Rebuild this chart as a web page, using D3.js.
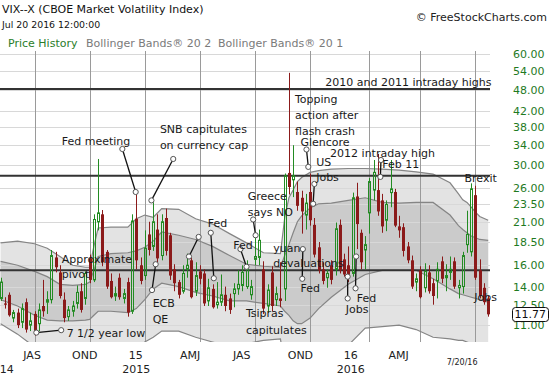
<!DOCTYPE html>
<html>
<head>
<meta charset="utf-8">
<script src="https://cdn.jsdelivr.net/npm/d3@7"></script>
<style>
  html, body { margin: 0; padding: 0; background: #fff; }
  svg { display: block; font-family: "DejaVu Sans", Verdana, sans-serif; }
</style>
</head>
<body>
<div id="chart"></div>
<script>
// ── Weekly candles (week starting Monday) ─────────────────────
const weeks = [
  "2014-05-05","2014-05-12","2014-05-19","2014-05-26","2014-06-02","2014-06-09","2014-06-16","2014-06-23",
  "2014-06-30","2014-07-07","2014-07-14","2014-07-21","2014-07-28","2014-08-04","2014-08-11","2014-08-18",
  "2014-08-25","2014-09-01","2014-09-08","2014-09-15","2014-09-22","2014-09-29","2014-10-06","2014-10-13",
  "2014-10-20","2014-10-27","2014-11-03","2014-11-10","2014-11-17","2014-11-24","2014-12-01","2014-12-08",
  "2014-12-15","2014-12-22","2014-12-29","2015-01-05","2015-01-12","2015-01-19","2015-01-26","2015-02-02",
  "2015-02-09","2015-02-16","2015-02-23","2015-03-02","2015-03-09","2015-03-16","2015-03-23","2015-03-30",
  "2015-04-06","2015-04-13","2015-04-20","2015-04-27","2015-05-04","2015-05-11","2015-05-18","2015-05-25",
  "2015-06-01","2015-06-08","2015-06-15","2015-06-22","2015-06-29","2015-07-06","2015-07-13","2015-07-20",
  "2015-07-27","2015-08-03","2015-08-10","2015-08-17","2015-08-24","2015-08-31","2015-09-07","2015-09-14",
  "2015-09-21","2015-09-28","2015-10-05","2015-10-12","2015-10-19","2015-10-26","2015-11-02","2015-11-09",
  "2015-11-16","2015-11-23","2015-11-30","2015-12-07","2015-12-14","2015-12-21","2015-12-28","2016-01-04",
  "2016-01-11","2016-01-18","2016-01-25","2016-02-01","2016-02-08","2016-02-15","2016-02-22","2016-02-29",
  "2016-03-07","2016-03-14","2016-03-21","2016-03-28","2016-04-04","2016-04-11","2016-04-18","2016-04-25",
  "2016-05-02","2016-05-09","2016-05-16","2016-05-23","2016-05-30","2016-06-06","2016-06-13","2016-06-20",
  "2016-06-27","2016-07-04","2016-07-11","2016-07-18"
];
const opens = [
  13.0,12.6,13.3,11.5,11.9,11.2,12.7,11.0, 11.8,11.1,12.4,12.7,12.9,16.8,15.3,12.9,
  11.6,12.0,12.6,13.6,13.0,16.7,14.6,21.0, 22.0,17.4,14.5,13.2,14.8,13.0,14.4,12.0,
  21.4,16.0,15.0,19.4,18.0,20.0,17.0,21.5, 19.3,15.6,14.4,13.6,15.6,16.5,13.6,15.4,
  15.2,12.8,13.8,12.5,12.7,13.3,13.0,13.4, 13.8,14.1,14.0,13.3,16.6,16.8,15.6,12.4,
  15.3,12.9,13.0,13.8,28.5,27.3,25.3,24.4, 21.9,25.3,20.6,17.9,15.6,14.8,16.0,15.6,
  20.6,16.6,16.0,15.2,24.6,19.6,17.6,22.2, 25.6,25.6,24.0,21.2,25.2,25.3,20.4,20.3,
  18.0,16.5,14.4,15.5,13.9,15.3,14.3,14.5, 16.4,14.8,15.3,16.4,13.9,14.0,18.2,17.4,
  24.8,15.5,13.9,13.0
];
const highs = [
  14.8,13.1,13.5,12.1,12.2,12.6,13.0,11.9, 12.0,12.6,14.6,13.6,17.6,17.4,16.0,13.5,
  12.4,12.8,14.1,14.3,15.4,17.1,22.0,31.1, 22.6,17.6,15.2,14.0,15.2,13.8,14.8,22.0,
  25.2,16.8,19.9,21.0,23.9,22.0,22.0,22.8, 19.6,16.1,14.6,16.0,17.2,16.8,16.3,16.0,
  15.6,14.7,14.2,14.4,15.1,14.0,13.4,14.3, 15.5,16.0,16.5,14.6,19.3,20.0,16.4,14.2,
  15.9,14.0,16.3,28.4,53.3,33.9,27.0,25.5, 25.0,28.4,21.5,18.5,16.3,15.6,16.5,20.9,
  21.3,17.2,18.0,25.2,26.8,20.0,19.2,27.6, 30.9,32.1,25.0,24.0,30.9,25.8,21.8,20.8,
  18.5,17.0,15.2,15.9,16.2,16.0,14.7,16.3, 16.9,16.1,16.9,16.8,14.6,17.4,22.5,26.7,
  26.3,16.6,14.3,13.2
];
const lows = [
  12.8,12.2,11.6,11.2,10.8,10.8,10.5,10.6, 10.3,10.6,11.6,11.8,12.6,15.3,13.0,11.2,
  11.3,11.6,12.2,11.9,12.5,14.3,14.4,19.9, 15.9,13.8,13.0,12.8,12.9,12.6,11.6,11.8,
  15.6,14.2,14.6,17.0,17.5,16.3,16.5,17.0, 14.6,13.6,13.0,13.4,14.8,13.0,13.2,14.2,
  12.4,12.4,12.2,12.2,12.4,12.0,11.8,12.3, 13.3,13.6,13.8,12.9,16.0,16.0,11.8,11.9,
  12.0,12.4,12.3,12.8,24.9,24.5,22.5,19.5, 20.0,20.5,16.8,15.2,14.2,13.9,14.2,15.0,
  15.2,14.9,14.4,14.9,17.7,15.6,15.6,19.5, 24.0,21.8,19.6,19.8,23.0,20.3,19.0,16.9,
  16.2,13.8,13.6,13.0,13.5,13.4,12.5,13.0, 14.3,13.6,14.6,13.8,13.0,13.4,17.3,16.9,
  14.6,13.0,12.5,11.6
];
const closes = [
  14.4,12.5,11.7,11.9,11.0,12.2,10.7,11.3, 10.4,12.1,12.0,12.9,17.0,15.8,13.2,11.5,
  12.1,12.4,13.5,12.1,15.2,14.6,21.3,22.2, 16.3,14.0,13.1,13.4,13.1,13.4,11.9,21.1,
  16.5,14.5,17.8,17.6,21.0,16.7,21.0,17.5, 15.0,14.3,13.3,15.2,16.0,13.1,15.0,14.7,
  12.6,13.9,12.3,12.7,13.3,12.4,12.1,13.8, 14.2,15.3,15.6,14.0,16.9,18.7,12.2,13.7,
  12.4,13.4,12.8,28.0,26.1,28.0,23.2,22.4, 23.6,21.2,17.1,15.5,14.5,15.2,14.6,20.1,
  15.5,15.1,14.8,24.4,20.7,16.3,18.2,27.0, 28.6,22.4,20.4,23.4,25.8,20.5,19.9,17.5,
  16.5,14.0,14.7,13.1,15.4,13.6,13.2,15.6, 14.7,15.0,15.6,14.0,14.1,17.0,19.4,25.8,
  14.8,13.2,12.7,11.77
];

// ── Bollinger bands ───────────────────────────────────────────
const bandWeeks = [
  "2014-05-05","2014-06-02","2014-06-30","2014-07-21","2014-08-11","2014-09-01","2014-09-22","2014-09-29",
  "2014-10-06","2014-10-13","2014-11-03","2014-12-01","2014-12-15","2014-12-29","2015-01-12","2015-01-26",
  "2015-02-23","2015-03-23","2015-04-20","2015-05-18","2015-06-15","2015-07-13","2015-08-10","2015-08-17",
  "2015-08-24","2015-08-31","2015-09-07","2015-09-14","2015-09-28","2015-10-12","2015-11-02","2015-11-30",
  "2015-12-28","2016-01-25","2016-02-22","2016-03-21","2016-04-18","2016-05-16","2016-05-30","2016-06-06",
  "2016-06-13","2016-06-20","2016-06-27","2016-07-04","2016-07-18"
];
const upper2 = [18.4,18.6,18.3,17.8,16.9,16.0,15.8,15.8, 18.0,20.2,20.3,20.3,21.4,21.9,21.6,22.8,
  22.7,21.4,20.7,19.5,18.4,17.3,17.2,21.5, 24.4,25.6,27.0,27.7,28.6,28.9,29.2,29.3,
  29.3,29.2,29.0,28.7,28.3,26.8,25.0,24.1, 23.7,23.0,22.3,21.7,21.2];
const upper1 = [16.4,16.0,15.4,14.9,14.2,14.1,14.2,14.4, 15.5,16.9,17.2,17.3,17.5,17.9,18.6,19.7,
  19.3,18.8,18.0,17.0,16.1,15.9,15.8,17.0, 18.2,19.6,21.0,21.8,22.9,23.5,23.6,24.0,
  24.4,23.7,23.6,23.7,23.7,21.9,20.5,20.0, 19.6,19.2,19.0,18.8,18.7];
const lower1 = [12.9,12.4,11.7,11.35,11.3,11.3,11.35,11.4, 11.7,12.0,12.0,11.9,12.2,12.9,13.8,14.3,
  14.0,13.5,13.2,12.8,12.8,12.6,12.4,12.0, 11.7,11.3,11.1,11.1,11.5,12.2,13.1,14.2,
  15.1,15.5,15.5,15.5,14.7,13.8,13.4,13.3, 13.2,13.1,13.0,12.9,12.7];
const lower2 = [11.1,10.4,9.6,9.2,9.0,9.0,9.2,9.3, 8.8,8.3,8.2,8.5,9.5,9.9,10.2,10.6,
  10.6,10.2,9.9,9.6,9.8,10.0,10.1,8.5, 7.0,6.5,6.2,6.0,6.0,6.5,7.8,9.7,
  10.8,10.9,11.0,10.7,10.2,10.1,10.0,10.0, 9.9,9.8,9.7,9.6,9.5];

// ── Axes ──────────────────────────────────────────────────────
const yTicks = [60, 54, 48, 42, 38, 34, 30, 26, 23.5, 21, 18.5, 16, 14, 12.5, 11];
const quarterWeeks = ["2014-06-30","2014-09-29","2014-12-29","2015-03-30","2015-06-29",
                      "2015-09-28","2016-01-04","2016-03-28","2016-06-27"];
const xLabels1 = [["JAS","2014-06-26"],["OND","2014-09-21"],["15","2014-12-14"],["AMJ","2015-03-14"],
                  ["JAS","2015-06-07"],["OND","2015-09-12"],["16","2015-12-04"],["AMJ","2016-02-21"]];
const xLabels2 = [["14","2014-05-15"],["2015","2014-12-15"],["2016","2015-12-04"]];
const lastLabel = ["7/20/16","2016-06-05"];
const refLines = [48.2, 28.0, 15.5];

// ── Annotations (anchor date, value) ──────────────────────────
const noteTexts = [
  ["Fed meeting","2014-08-14",34.8], ["SNB capitulates","2015-01-23",37.5], ["on currency cap","2015-01-23",33.9],
  ["Approximate","2014-08-14",16.6], ["pivot","2014-08-14",15.1], ["7 1/2 year low","2014-08-22",10.47],
  ["ECB","2015-01-11",12.6], ["QE","2015-01-11",11.4], ["Fed","2015-04-12",20.8], ["Fed","2015-05-24",18.2],
  ["Greece","2015-06-17",24.7], ["says NO","2015-06-17",22.3], ["Tsipras","2015-06-14",11.9],
  ["capitulates","2015-06-14",10.66], ["yuan","2015-07-29",17.8], ["devaluations","2015-07-29",16.2],
  ["Fed","2015-09-12",13.9], ["Topping","2015-09-03",45.3], ["action after","2015-09-03",41.0],
  ["flash crash","2015-09-03",37.1], ["Glencore","2015-09-12",34.5], ["US","2015-10-08",30.5],
  ["Jobs","2015-10-08",27.8], ["2010 and 2011 intraday highs","2015-10-23",50.4],
  ["2012 intraday high","2015-10-31",32.3], ["Feb 11","2016-01-25",30.1], ["Brexit","2016-06-09",27.6],
  ["Jobs","2016-06-25",13.1], ["Fed","2015-12-14",13.05], ["Jobs","2015-11-26",12.2]
];
const noteLinks = [
  ["2014-11-22",33.1,"2014-12-14",25.3], ["2015-02-14",31.1,"2015-01-09",24.0],
  ["2014-08-13",10.66,"2014-07-03",10.5], ["2015-01-10",13.7,"2015-01-16",16.1],
  ["2015-03-12",16.9,"2015-03-28",19.1], ["2015-04-17",19.6,"2015-04-22",14.75],
  ["2015-06-05",17.7,"2015-06-15",15.85], ["2015-06-26",21.3,"2015-06-30",19.3],
  ["2015-09-16",17.7,"2015-09-15",14.7], ["2015-09-22",33.0,"2015-09-25",29.6],
  ["2015-10-05",26.6,"2015-10-03",23.5], ["2016-01-23",30.9,"2016-01-22",27.8],
  ["2015-11-29",13.0,"2015-11-29",14.9], ["2015-12-12",13.85,"2015-12-13",16.9]
];

// ── Build ─────────────────────────────────────────────────────
const W = 550, H = 375;
const P = { left: 0, right: 490, top: 51, bottom: 342 };
const parse = d3.timeParse("%Y-%m-%d");
const GREEN = "#228b22", RED = "#8b1a1a";

const x = d3.scaleTime()
  .domain([parse("2014-05-04"), parse("2016-07-21")])
  .range([P.left, P.right]);
const y = d3.scaleLog()
  .domain([9.9, 61.1])
  .range([P.bottom, P.top]);

const svg = d3.select("#chart").append("svg")
  .attr("width", W).attr("height", H);

svg.append("rect").attr("width", W).attr("height", H).attr("fill", "#fff");

svg.append("defs").append("clipPath").attr("id", "plotClip")
  .append("rect")
    .attr("x", P.left).attr("y", P.top)
    .attr("width", P.right - P.left).attr("height", P.bottom - P.top);

const plot = svg.append("g").attr("clip-path", "url(#plotClip)");

// bands
const bands = bandWeeks.map((w, i) => ({
  date: parse(w), u2: upper2[i], u1: upper1[i], l1: lower1[i], l2: lower2[i]
}));
const areaOuter = d3.area().x(d => x(d.date)).y0(d => y(d.l2)).y1(d => y(d.u2));
const areaInner = d3.area().x(d => x(d.date)).y0(d => y(d.l1)).y1(d => y(d.u1));
plot.append("path").datum(bands).attr("d", areaOuter).attr("fill", "#e3e3e3");
plot.append("path").datum(bands).attr("d", areaInner).attr("fill", "#cbcbcb");

// horizontal grid
plot.selectAll(".hgrid").data(yTicks).join("line")
  .attr("x1", P.left).attr("x2", P.right)
  .attr("y1", d => Math.round(y(d)) + 0.5).attr("y2", d => Math.round(y(d)) + 0.5)
  .attr("stroke", "#d8d8d8").attr("stroke-width", 1);

// vertical grid
plot.selectAll(".vgrid").data(quarterWeeks).join("line")
  .attr("x1", d => Math.round(x(parse(d))) + 0.5).attr("x2", d => Math.round(x(parse(d))) + 0.5)
  .attr("y1", P.top).attr("y2", P.bottom)
  .attr("stroke", "#9a9a9a").attr("stroke-width", 1);

// band lines
["u2", "u1", "l1", "l2"].forEach(k => {
  plot.append("path").datum(bands)
    .attr("d", d3.line().x(d => x(d.date)).y(d => y(d[k])))
    .attr("fill", "none").attr("stroke", "#858585").attr("stroke-width", 1.2);
});

// reference lines
plot.selectAll(".ref").data(refLines).join("line")
  .attr("x1", P.left).attr("x2", P.right)
  .attr("y1", d => y(d)).attr("y2", d => y(d))
  .attr("stroke", "#333").attr("stroke-width", 2);

// candles
const candles = weeks.map((w, i) => ({
  date: parse(w), o: opens[i], h: highs[i], l: lows[i], c: closes[i]
}));
const cg = plot.append("g");
candles.forEach(d => {
  const X = Math.round(x(d.date));
  const up = d.c >= d.o;
  const col = up ? GREEN : RED;
  const yTop = y(Math.max(d.o, d.c)), yBot = y(Math.min(d.o, d.c));
  if (up) {
    cg.append("line").attr("x1", X + 0.5).attr("x2", X + 0.5)
      .attr("y1", y(d.h)).attr("y2", yTop).attr("stroke", col);
    cg.append("line").attr("x1", X + 0.5).attr("x2", X + 0.5)
      .attr("y1", yBot).attr("y2", y(d.l)).attr("stroke", col);
    cg.append("rect").attr("x", X - 0.5).attr("y", yTop)
      .attr("width", 2).attr("height", Math.max(1, yBot - yTop))
      .attr("fill", "none").attr("stroke", col).attr("stroke-width", 1);
  } else {
    cg.append("line").attr("x1", X + 0.5).attr("x2", X + 0.5)
      .attr("y1", y(d.h)).attr("y2", y(d.l)).attr("stroke", col);
    cg.append("rect").attr("x", X - 1).attr("y", yTop)
      .attr("width", 3).attr("height", Math.max(1, yBot - yTop))
      .attr("fill", col);
  }
});

// annotation links
const ng = plot.append("g");
noteLinks.forEach(([d1, v1, d2, v2]) => {
  ng.append("line")
    .attr("x1", x(parse(d1))).attr("y1", y(v1))
    .attr("x2", x(parse(d2))).attr("y2", y(v2))
    .attr("stroke", "#111").attr("stroke-width", 1.3);
  [[d1, v1], [d2, v2]].forEach(([dd, vv]) => {
    ng.append("circle").attr("cx", x(parse(dd))).attr("cy", y(vv)).attr("r", 2.6)
      .attr("fill", "#fff").attr("stroke", "#555").attr("stroke-width", 1);
  });
});

// annotation texts (not clipped: some run past the plot edge)
svg.append("g").selectAll(".note").data(noteTexts).join("text")
  .attr("x", d => x(parse(d[1]))).attr("y", d => y(d[2]))
  .attr("dy", "0.36em")
  .attr("font-size", 11).attr("fill", "#1a1a1a")
  .text(d => d[0]);

// y labels
svg.selectAll(".ylab").data(yTicks).join("text")
  .attr("x", 513).attr("y", d => y(d)).attr("dy", "0.36em")
  .attr("font-size", 11).attr("fill", "#1f7a1f")
  .text(d => d3.format(".2f")(d));

// last value box
const last = closes[closes.length - 1];
svg.append("rect")
  .attr("x", 512.5).attr("y", Math.round(y(last)) - 6.5)
  .attr("width", 36).attr("height", 14).attr("rx", 3)
  .attr("fill", "#fff").attr("stroke", "#111").attr("stroke-width", 1);
svg.append("text")
  .attr("x", 514.5).attr("y", y(last)).attr("dy", "0.36em")
  .attr("font-size", 11).attr("fill", "#111")
  .text(d3.format(".2f")(last));

// x labels
svg.selectAll(".xl1").data(xLabels1).join("text")
  .attr("x", d => x(parse(d[1]))).attr("y", 359)
  .attr("text-anchor", "middle").attr("font-size", 11).attr("fill", "#222")
  .text(d => d[0]);
svg.selectAll(".xl2").data(xLabels2).join("text")
  .attr("x", d => x(parse(d[1]))).attr("y", 373)
  .attr("text-anchor", "middle").attr("font-size", 11).attr("fill", "#222")
  .text(d => d[0]);
svg.append("text")
  .attr("x", x(parse(lastLabel[1]))).attr("y", 365)
  .attr("text-anchor", "middle").attr("font-size", 8).attr("fill", "#222")
  .text(lastLabel[0]);

// header
svg.append("text").attr("x", 2).attr("y", 13).attr("font-size", 11).attr("fill", "#111")
  .text("VIX--X (CBOE Market Volatility Index)");
svg.append("text").attr("x", 2).attr("y", 28).attr("font-size", 9.4).attr("fill", "#111")
  .text("Jul 20 2016 12:00:00");
svg.append("text").attr("x", 547).attr("y", 21).attr("font-size", 11).attr("fill", "#222")
  .attr("text-anchor", "end").text("© FreeStockCharts.com");
svg.append("text").attr("x", 8).attr("y", 46.5).attr("font-size", 11).attr("fill", "#2a7d2a")
  .text("Price History");
svg.append("text").attr("x", 86).attr("y", 46.5).attr("font-size", 11).attr("fill", "#7a7a7a")
  .text("Bollinger Bands® 20 2");
svg.append("text").attr("x", 218).attr("y", 46.5).attr("font-size", 11).attr("fill", "#7a7a7a")
  .text("Bollinger Bands® 20 1");
</script>
</body>
</html>
